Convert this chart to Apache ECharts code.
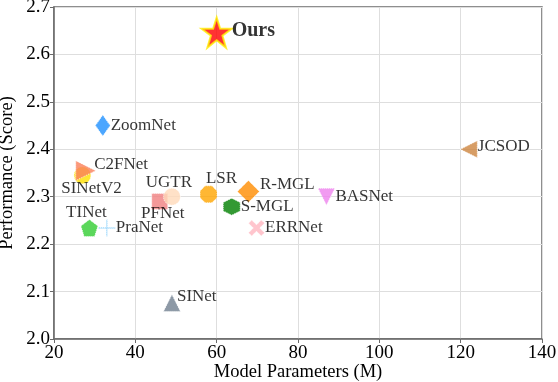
<!DOCTYPE html>
<html>
<head>
<meta charset="utf-8">
<script src="https://cdn.jsdelivr.net/npm/echarts@6/dist/echarts.min.js"></script>
<style>
    html, body { margin: 0; padding: 0; background: #fff; }
    #chart { width: 558px; height: 382px; }
</style>
</head>
<body>
<div id="chart"></div>
<script>
    // data
    var methods = ['Ours', 'ZoomNet', 'SINetV2', 'C2FNet', 'TINet', 'PraNet', 'PFNet', 'UGTR',
        'LSR', 'R-MGL', 'S-MGL', 'ERRNet', 'BASNet', 'JCSOD', 'SINet'];
    var params = [60, 32, 27, 27.8, 28.7, 33, 46, 49, 58, 67.8, 63.7, 69.8, 87, 122, 49];
    var scores = [2.646, 2.45, 2.345, 2.355, 2.234, 2.234, 2.29, 2.30, 2.305, 2.311, 2.279, 2.234, 2.30, 2.40, 2.076];
    var xTicks = [20, 140, 20];
    var yTicks = [2.0, 2.7, 0.1];

    // marker shapes
    var S = {
        star: 'path://M50,0 L61.8,35.3 L100,35.3 L69.1,57.1 L80.9,95.1 L50,71.5 L19.1,95.1 L30.9,57.1 L0,35.3 L38.2,35.3 Z',
        pentagon: 'path://M50,0 L100,36.3 L80.9,95.1 L19.1,95.1 L0,36.3 Z',
        hexagon: 'path://M50,0 L93.3,25 L93.3,75 L50,100 L6.7,75 L6.7,25 Z',
        octagon: 'path://M30,0 L70,0 L100,30 L100,70 L70,100 L30,100 L0,70 L0,30 Z',
        plus: 'path://M46,0 L54,0 L54,46 L100,46 L100,54 L54,54 L54,100 L46,100 L46,54 L0,54 L0,46 L46,46 Z',
        cross: 'path://M0,20 L20,0 L50,30 L80,0 L100,20 L70,50 L100,80 L80,100 L50,70 L20,100 L0,80 L30,50 Z',
        down: 'path://M0,0 L100,0 L50,100 Z',
        left: 'path://M0,50 L100,0 L100,100 Z',
        right: 'path://M0,0 L100,50 L0,100 Z'
    };

    var looks = [
        {symbol: S.star, size: 30, color: '#ff0000', border: '#ffee00', bw: 2, type: 'solid', pos: 'right', off: [-3, -2], bold: true},
        {symbol: 'diamond', size: [15, 21], color: '#1e90ff', pos: 'right', off: [-2, 0]},
        {symbol: 'circle', size: 17, color: '#ffe000', pos: 'bottom', off: [9, -6]},
        {symbol: S.right, size: 20, color: '#fa7f5a', pos: 'right', off: [-4, -6]},
        {symbol: S.pentagon, size: 17, color: '#32cd32', pos: 'top', off: [-3, 4]},
        {symbol: S.plus, size: 17, color: '#87cefa', pos: 'right', off: [-2, 0]},
        {symbol: 'rect', size: 16, color: '#f08080', pos: 'bottom', off: [3, -7]},
        {symbol: 'circle', size: 17, color: '#ffdab9', pos: 'top', off: [-3, 5]},
        {symbol: S.octagon, size: 17, color: '#ffa500', pos: 'top', off: [13, 4]},
        {symbol: 'diamond', size: 22, color: '#ff8c00', pos: 'right', off: [-2, -7]},
        {symbol: S.hexagon, size: 17, color: '#008000', pos: 'right', off: [-2, 0]},
        {symbol: S.cross, size: 16, color: '#ffb6c1', pos: 'right', off: [-2, 0]},
        {symbol: S.down, size: 17, color: '#ee82ee', pos: 'right', off: [-2, 0]},
        {symbol: S.left, size: 17, color: '#cd853f', pos: 'right', off: [-2, -3]},
        {symbol: 'triangle', size: 17, color: '#708090', pos: 'right', off: [-6, -6]}
    ];

    var font = 'Liberation Serif';

    var points = methods.map(function (name, i) {
        var lk = looks[i];
        return {
            name: name,
            value: [params[i], scores[i]],
            symbol: lk.symbol,
            symbolSize: lk.size,
            itemStyle: {
                color: lk.color,
                borderColor: lk.border || '#ffffff',
                borderWidth: lk.bw || 1,
                borderType: lk.type || 'dotted'
            },
            label: {
                show: true,
                formatter: name,
                position: lk.pos,
                offset: lk.off,
                distance: 2,
                color: '#000',
                fontFamily: font,
                fontSize: lk.bold ? 20 : 17,
                fontWeight: lk.bold ? 'bold' : 'normal'
            }
        };
    });

    var chart = echarts.init(document.getElementById('chart'));
    chart.setOption({
        animation: false,
        grid: {
            left: 54, right: 16, top: 7, bottom: 43,
            outerBoundsMode: 'none',
            containLabel: false,
            show: true, borderColor: '#6a6a6a', borderWidth: 1.5
        },
        xAxis: {
            type: 'value',
            min: xTicks[0], max: xTicks[1], interval: xTicks[2],
            name: 'Model Parameters (M)',
            nameLocation: 'middle',
            nameGap: 24,
            nameMoveOverlap: false,
            nameTextStyle: {fontFamily: font, fontSize: 18.5, color: '#000', verticalAlign: 'top'},
            axisLine: {show: true, lineStyle: {color: '#6a6a6a', width: 1.5}},
            axisTick: {show: true, length: 4, lineStyle: {color: '#6a6a6a'}},
            axisLabel: {fontFamily: font, fontSize: 19, color: '#000', margin: 5},
            splitLine: {show: true, lineStyle: {color: '#dedede', width: 1}}
        },
        yAxis: {
            type: 'value',
            min: yTicks[0], max: yTicks[1], interval: yTicks[2],
            name: 'Performance (Score)',
            nameLocation: 'middle',
            nameGap: 37,
            nameMoveOverlap: false,
            nameTextStyle: {fontFamily: font, fontSize: 18.5, color: '#000'},
            axisLine: {show: true, lineStyle: {color: '#6a6a6a', width: 1.5}},
            axisTick: {show: true, length: 4, lineStyle: {color: '#6a6a6a'}},
            axisLabel: {
                fontFamily: font, fontSize: 19, color: '#000', margin: 4,
                formatter: function (v) { return v.toFixed(1); }
            },
            splitLine: {show: true, lineStyle: {color: '#dedede', width: 1}}
        },
        series: [{
            type: 'scatter',
            data: points
        }]
    });
</script>
</body>
</html>
